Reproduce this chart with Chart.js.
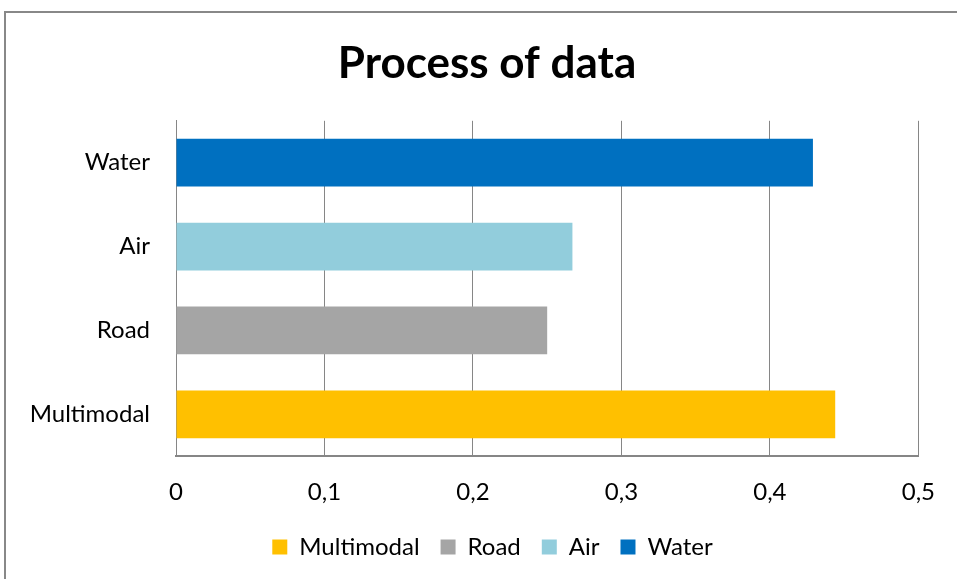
<!DOCTYPE html>
<html>
<head>
<meta charset="utf-8">
<script src="https://cdn.jsdelivr.net/npm/chart.js@4"></script>
<style>
  html, body { margin: 0; padding: 0; background: #fff; overflow: hidden; }
  #frame {
    position: absolute; left: 4px; top: 11px; width: 1200px; height: 1200px;
    border-left: 2px solid #888; border-top: 2px solid #888; box-sizing: border-box;
  }
  #wrap { position: absolute; left: 0; top: 0; width: 957px; height: 579px; }
</style>
</head>
<body>
<div id="frame"></div>
<div id="wrap"><canvas id="myChart"></canvas></div>
<script>
// Datos del gráfico
const categories = ['Multimodal', 'Road', 'Air', 'Water'];
const values = [0.444, 0.25, 0.267, 0.429];
const colors = ['#FFC000', '#A5A5A5', '#92CDDC', '#0070C0'];
const xTickLabels = ['0', '0,1', '0,2', '0,3', '0,4', '0,5'];

// Una serie por categoría (como en la hoja de cálculo)
const datasets = categories.map((name, i) => ({
    label: name,
    data: categories.map((c, j) => (j === i ? values[i] : null)),
    backgroundColor: colors[i],
    borderWidth: 0,
    barPercentage: 0.57,
    categoryPercentage: 1
}));

const fontFamily = 'Lato, "Open Sans", sans-serif';

// Desplaza título y leyenda para centrarlos como en Excel
const shiftBlocks = {
    id: 'shiftBlocks',
    afterLayout(chart) {
        if (chart.titleBlock) chart.titleBlock.left += 50;
        if (chart.legend) {
            chart.legend.left += 61;
            chart.legend.top -= 15;
        }
    }
};

const ctx = document.getElementById('myChart').getContext('2d');
const myChart = new Chart(ctx, {
    type: 'bar',
    data: { labels: categories, datasets: datasets },
    plugins: [shiftBlocks],
    options: {
        indexAxis: 'y',
        responsive: true,
        maintainAspectRatio: false,
        animation: false,
        layout: { padding: { left: 0, right: 33, top: 0, bottom: 0 } },
        plugins: {
            title: {
                display: true,
                text: 'Process of data',
                color: '#000',
                font: { family: fontFamily, size: 44, weight: 'bold' },
                padding: { top: 37, bottom: 31 }
            },
            legend: {
                position: 'bottom',
                maxHeight: 50,
                labels: {
                    color: '#000',
                    boxWidth: 15,
                    boxHeight: 15,
                    padding: 21,
                    font: { family: fontFamily, size: 24 }
                }
            },
            tooltip: { enabled: false }
        },
        scales: {
            x: {
                stacked: true,
                min: 0,
                max: 0.5,
                ticks: {
                    stepSize: 0.1,
                    color: '#000',
                    padding: 22,
                    font: { family: fontFamily, size: 24 },
                    callback: (v, i) => xTickLabels[i]
                },
                grid: { color: '#868686', lineWidth: 1, drawTicks: false },
                border: { color: '#868686', width: 2 }
            },
            y: {
                stacked: true,
                reverse: true,
                afterFit: scale => { scale.width = 176; },
                ticks: {
                    color: '#000',
                    padding: 26,
                    font: { family: fontFamily, size: 24 }
                },
                grid: { display: false, drawTicks: false },
                border: { color: '#868686', width: 1 }
            }
        }
    }
});
</script>
</body>
</html>
